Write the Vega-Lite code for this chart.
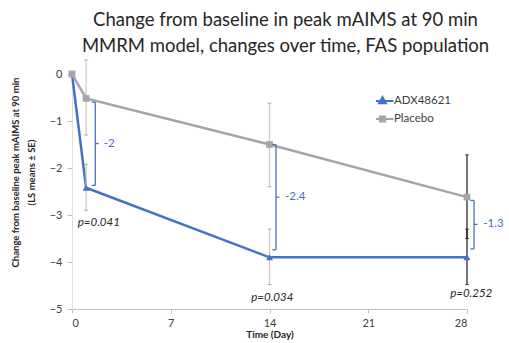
{
  "$schema": "https://vega.github.io/schema/vega-lite/v6.json",
  "width": 395,
  "height": 235,
  "autosize": "none",
  "padding": {"left": 72, "top": 74, "right": 42, "bottom": 34},
  "background": "white",
  "config": {"view": {"stroke": null}, "font": "Lato"},
  "title": {
    "text": ["Change from baseline in peak mAIMS at 90 min", "MMRM model, changes over time, FAS population"],
    "font": "Lato",
    "fontSize": 18.5,
    "fontWeight": "normal",
    "color": "#262626",
    "anchor": "middle",
    "dx": 16,
    "lineHeight": 26,
    "offset": 4
  },
  "datasets": {
    "means": [
      {"series": "ADX48621", "day": 0, "mean": 0},
      {"series": "ADX48621", "day": 1, "mean": -2.42, "lo": -2.9, "hi": -1.92},
      {"series": "ADX48621", "day": 14, "mean": -3.9, "lo": -4.48, "hi": -3.3},
      {"series": "ADX48621", "day": 28, "mean": -3.9, "lo": -4.48, "hi": -3.3},
      {"series": "Placebo", "day": 0, "mean": 0},
      {"series": "Placebo", "day": 1, "mean": -0.52, "lo": -1.3, "hi": 0.3},
      {"series": "Placebo", "day": 14, "mean": -1.5, "lo": -2.4, "hi": -0.62},
      {"series": "Placebo", "day": 28, "mean": -2.62, "lo": -3.5, "hi": -1.72}
    ],
    "brackets": [
      {"bx": 1.65, "bl": 1.4, "br": 1.9, "lx": 2.25, "top": -0.6, "bottom": -2.37, "mid": -1.48, "label": "-2"},
      {"bx": 14.46, "bl": 14.2, "br": 14.7, "lx": 15.1, "top": -1.5, "bottom": -3.74, "mid": -2.62, "label": "-2.4"},
      {"bx": 28.5, "bl": 28.25, "br": 28.75, "lx": 29.15, "top": -2.69, "bottom": -3.72, "mid": -3.2, "label": "-1.3"}
    ],
    "pvals": [
      {"px": 1.9, "py": -3.16, "t": "p=0.041"},
      {"px": 14.2, "py": -4.76, "t": "p=0.034"},
      {"px": 28.3, "py": -4.68, "t": "p=0.252"}
    ]
  },
  "layer": [
    {
      "data": {"name": "means"},
      "mark": {"type": "line", "strokeWidth": 2.5},
      "encoding": {
        "x": {
          "field": "day", "type": "quantitative",
          "scale": {"domain": [0, 28], "nice": false, "zero": false},
          "axis": {
            "values": [0, 7, 14, 21, 28],
            "title": "Time (Day)",
            "titleFont": "Lato", "titleFontSize": 10, "titleFontWeight": "bold", "titleColor": "#262626",
            "titlePadding": 1,
            "labelFont": "Lato", "labelFontSize": 11, "labelColor": "#404040", "labelPadding": 4,
            "domainColor": "#bfbfbf", "tickColor": "#bfbfbf", "tickSize": 4, "grid": false
          }
        },
        "y": {
          "field": "mean", "type": "quantitative",
          "scale": {"domain": [-5, 0], "nice": false},
          "axis": {
            "values": [0, -1, -2, -3, -4, -5],
            "title": ["Change from baseline peak mAIMS at 90 min", "(LS means ± SE)"],
            "titleFont": "Lato", "titleFontSize": 9.5, "titleFontWeight": "bold", "titleColor": "#262626",
            "titleAngle": -90, "titleAlign": "center", "titleBaseline": "top",
            "titleX": -62, "titleY": 98, "titleLineHeight": 16,
            "labelFont": "Lato", "labelFontSize": 11, "labelColor": "#404040", "labelPadding": 5,
            "domainColor": "#e0e0e0", "tickColor": "#bfbfbf", "tickSize": 5, "grid": false
          }
        },
        "color": {
          "field": "series", "type": "nominal",
          "scale": {"domain": ["ADX48621", "Placebo"], "range": ["#4472C4", "#A5A5A5"]},
          "legend": {
            "orient": "none", "legendX": 304, "legendY": 21,
            "title": null,
            "symbolSize": 100, "symbolStrokeWidth": 2.5,
            "labelFont": "Lato", "labelFontSize": 11.5, "labelColor": "#404040", "labelOffset": 5,
            "rowPadding": 6, "clipHeight": 12,
            "encode": {
              "symbols": {
                "update": {
                  "shape": {"signal": "datum.value === 'ADX48621' ? 'M-2.2,0H2.2M0,-0.75L0.65,0.45L-0.65,0.45Z' : 'M-2.2,0H2.2M-0.5,-0.5H0.5V0.5H-0.5Z'"},
                  "fill": {"signal": "datum.value === 'ADX48621' ? '#4472C4' : '#A5A5A5'"},
                  "stroke": {"signal": "datum.value === 'ADX48621' ? '#4472C4' : '#A5A5A5'"},
                  "fillOpacity": {"value": 1},
                  "strokeWidth": {"value": 2.2}
                }
              }
            }
          }
        }
      }
    },
    {
      "data": {"name": "means"},
      "transform": [{"filter": "isValid(datum.lo)"}],
      "mark": {"type": "rule", "strokeWidth": 1.2},
      "encoding": {
        "x": {"field": "day", "type": "quantitative"},
        "y": {"field": "lo", "type": "quantitative"},
        "y2": {"field": "hi"},
        "color": {"condition": {"test": "datum.day === 28", "value": "#1a1a1a"}, "value": "#c8c8c8"}
      }
    },
    {
      "data": {"name": "means"},
      "transform": [{"filter": "isValid(datum.lo)"}],
      "mark": {"type": "tick", "orient": "horizontal", "size": 4, "thickness": 1},
      "encoding": {
        "x": {"field": "day", "type": "quantitative"},
        "y": {"field": "lo", "type": "quantitative"},
        "color": {"condition": {"test": "datum.day === 28", "value": "#1a1a1a"}, "value": "#8c8c8c"}
      }
    },
    {
      "data": {"name": "means"},
      "transform": [{"filter": "isValid(datum.hi)"}],
      "mark": {"type": "tick", "orient": "horizontal", "size": 4, "thickness": 1},
      "encoding": {
        "x": {"field": "day", "type": "quantitative"},
        "y": {"field": "hi", "type": "quantitative"},
        "color": {"condition": {"test": "datum.day === 28", "value": "#1a1a1a"}, "value": "#8c8c8c"}
      }
    },
    {
      "data": {"name": "means"},
      "transform": [{"filter": "datum.series === 'ADX48621'"}],
      "mark": {"type": "point", "shape": "triangle-up", "filled": true, "opacity": 1, "size": 50, "color": "#4472C4"},
      "encoding": {
        "x": {"field": "day", "type": "quantitative"},
        "y": {"field": "mean", "type": "quantitative"}
      }
    },
    {
      "data": {"name": "means"},
      "transform": [{"filter": "datum.series === 'Placebo'"}],
      "mark": {"type": "point", "shape": "square", "filled": true, "opacity": 1, "size": 45, "color": "#A5A5A5"},
      "encoding": {
        "x": {"field": "day", "type": "quantitative"},
        "y": {"field": "mean", "type": "quantitative"}
      }
    },
    {
      "data": {"name": "brackets"},
      "mark": {"type": "rule", "color": "#4472C4", "strokeWidth": 1.3},
      "encoding": {
        "x": {"field": "bx", "type": "quantitative"},
        "y": {"field": "top", "type": "quantitative"},
        "y2": {"field": "bottom"}
      }
    },
    {
      "data": {"name": "brackets"},
      "mark": {"type": "rule", "color": "#4472C4", "strokeWidth": 1.3},
      "encoding": {
        "x": {"field": "bl", "type": "quantitative"},
        "x2": {"field": "bx"},
        "y": {"field": "top", "type": "quantitative"}
      }
    },
    {
      "data": {"name": "brackets"},
      "mark": {"type": "rule", "color": "#4472C4", "strokeWidth": 1.3},
      "encoding": {
        "x": {"field": "bl", "type": "quantitative"},
        "x2": {"field": "bx"},
        "y": {"field": "bottom", "type": "quantitative"}
      }
    },
    {
      "data": {"name": "brackets"},
      "mark": {"type": "rule", "color": "#4472C4", "strokeWidth": 1.3},
      "encoding": {
        "x": {"field": "bx", "type": "quantitative"},
        "x2": {"field": "br"},
        "y": {"field": "mid", "type": "quantitative"}
      }
    },
    {
      "data": {"name": "brackets"},
      "mark": {"type": "text", "color": "#4472C4", "font": "Lato", "fontSize": 11.5, "align": "left", "baseline": "middle"},
      "encoding": {
        "x": {"field": "lx", "type": "quantitative"},
        "y": {"field": "mid", "type": "quantitative"},
        "text": {"field": "label"}
      }
    },
    {
      "data": {"name": "pvals"},
      "mark": {"type": "text", "color": "#262626", "font": "Lato", "fontSize": 11.5, "fontStyle": "italic", "align": "center", "baseline": "middle"},
      "encoding": {
        "x": {"field": "px", "type": "quantitative"},
        "y": {"field": "py", "type": "quantitative"},
        "text": {"field": "t"}
      }
    }
  ]
}
